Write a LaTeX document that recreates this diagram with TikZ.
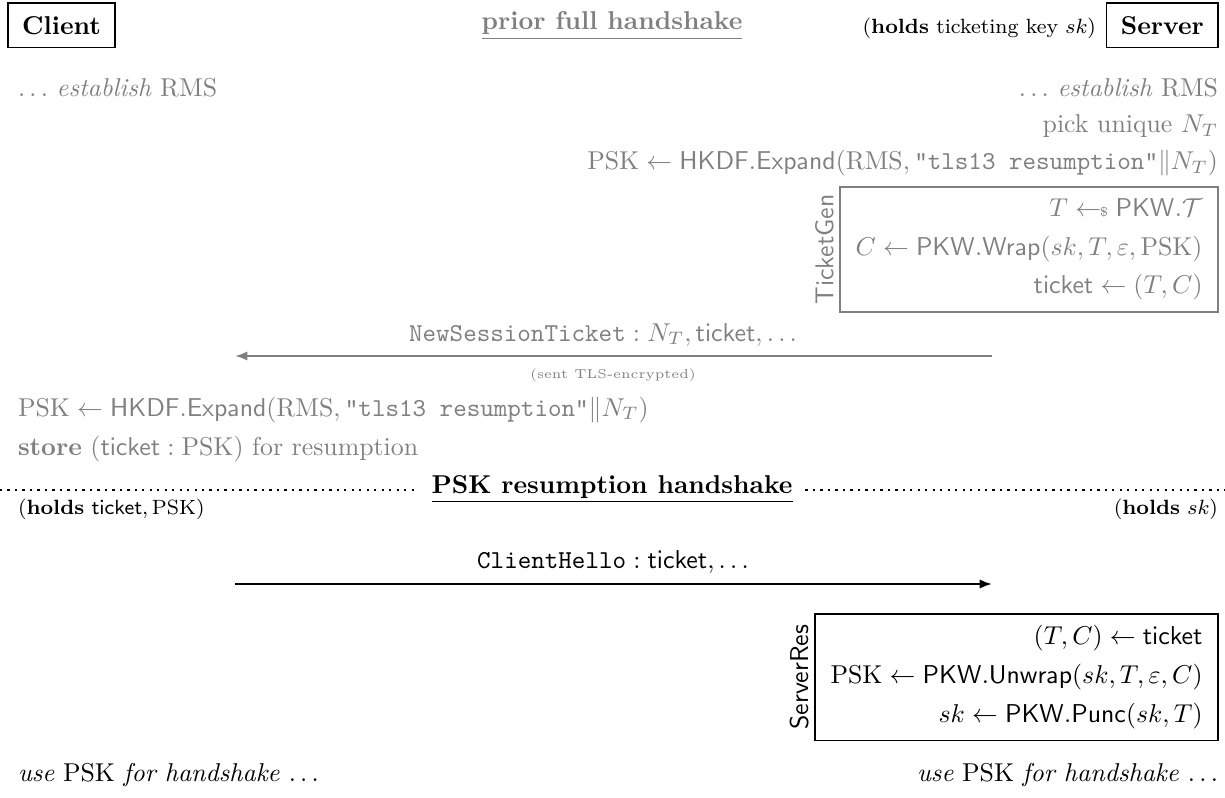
\documentclass[tikz,border=0pt]{standalone}
\usepackage{amsmath,amssymb}
\usetikzlibrary{arrows.meta}
\begin{document}
\begin{tikzpicture}[x=0.3876pt,y=-0.3876pt,
  every node/.style={inner sep=0pt, outer sep=0pt},
  party/.style={draw, line width=0.5pt, font=\bfseries, minimum height=17.2pt, inner xsep=5.5pt},
  gtext/.style={text=gray},
  R/.style={anchor=base east},
  L/.style={anchor=base west},
  procbox/.style={draw, line width=0.5pt, align=right, inner xsep=6pt, inner ysep=4.5pt},
  proclabel/.style={rotate=90, font=\sffamily, anchor=south, inner sep=2.5pt},
  msg/.style={line width=0.8pt, -{Latex[length=4.8pt,width=3.6pt]}},
  sepline/.style={dotted, line width=0.9pt}
]
\useasboundingbox (0,0) rectangle (1225,798);

% parties and headings
\node[party, anchor=north west] (client) at (8,3) {Client};
\node[party, anchor=north east] (server) at (1218,3) {Server};
\node[R, font=\footnotesize] (holdsA) at (1096,34) {(\textbf{holds} ticketing key $sk$)};
\node[anchor=base, text=gray, font=\bfseries] (phead) at (612,30) {\underline{prior full handshake}};

% prior full handshake
\node[L, gtext] (cest) at (18,97) {$\ldots$ \emph{establish} RMS};
\node[R, gtext] (sest) at (1218,97) {$\ldots$ \emph{establish} RMS};
\node[R, gtext] (pick) at (1218,133) {pick unique $N_T$};
\node[R, gtext] (spsk) at (1218,170) {$\mathrm{PSK} \leftarrow \mathsf{HKDF.Expand}(\mathrm{RMS}, \texttt{"tls13 resumption"} \| N_T)$};

\node[procbox, draw=gray, text=gray, anchor=north east] (tg) at (1218,187)
  {$T \leftarrow\!\!{\scriptscriptstyle\$}\;\mathsf{PKW}.\mathcal{T}$\\[3pt]
   $C \leftarrow \mathsf{PKW.Wrap}(sk, T, \varepsilon, \mathrm{PSK})$\\[3pt]
   $\mathsf{ticket} \leftarrow (T, C)$};
\node[proclabel, text=gray] (tglbl) at (tg.west) {TicketGen};

\coordinate (nstS) at (992,356);
\coordinate (nstE) at (235,356);
\draw[msg, gray] (nstS) -- (nstE);
\node[anchor=base, gtext] (nstlbl) at (603,341) {$\texttt{NewSessionTicket} : N_T, \mathsf{ticket}, \ldots$};
\node[anchor=base, gtext, font=\tiny] (nstnote) at (613,378) {(sent TLS-encrypted)};

\node[L, gtext] (cpsk) at (18,416) {$\mathrm{PSK} \leftarrow \mathsf{HKDF.Expand}(\mathrm{RMS}, \texttt{"tls13 resumption"} \| N_T)$};
\node[L, gtext] (cstore) at (18,455) {\textbf{store} ($\mathsf{ticket} : \mathrm{PSK}$) for resumption};

% resumption
\node[anchor=base, font=\bfseries] (rhead) at (612,493) {\underline{PSK resumption handshake}};
\coordinate (sepL) at (0,490);
\coordinate (sepR) at (1225,490);
\draw[sepline] (sepL) -- ([xshift=-5pt]rhead.west |- sepL);
\draw[sepline] ([xshift=5pt]rhead.east |- sepR) -- (sepR);
\node[L, font=\footnotesize] (holdsB) at (18,514) {(\textbf{holds} $\mathsf{ticket}, \mathrm{PSK}$)};
\node[R, font=\footnotesize] (holdsC) at (1218,514) {(\textbf{holds} $sk$)};

\node[anchor=base] (chlbl) at (613,568) {$\texttt{ClientHello} : \mathsf{ticket}, \ldots$};
\coordinate (chS) at (235,584);
\coordinate (chE) at (992,584);
\draw[msg] (chS) -- (chE);

\node[procbox, anchor=north east] (sr) at (1218,614)
  {$(T, C) \leftarrow \mathsf{ticket}$\\[3pt]
   $\mathrm{PSK} \leftarrow \mathsf{PKW.Unwrap}(sk, T, \varepsilon, C)$\\[3pt]
   $sk \leftarrow \mathsf{PKW.Punc}(sk, T)$};
\node[proclabel] (srlbl) at (sr.west) {ServerRes};

\node[L] (cuse) at (18,781) {\emph{use} PSK \emph{for handshake $\ldots$}};
\node[R] (suse) at (1218,781) {\emph{use} PSK \emph{for handshake $\ldots$}};
\end{tikzpicture}
\end{document}
